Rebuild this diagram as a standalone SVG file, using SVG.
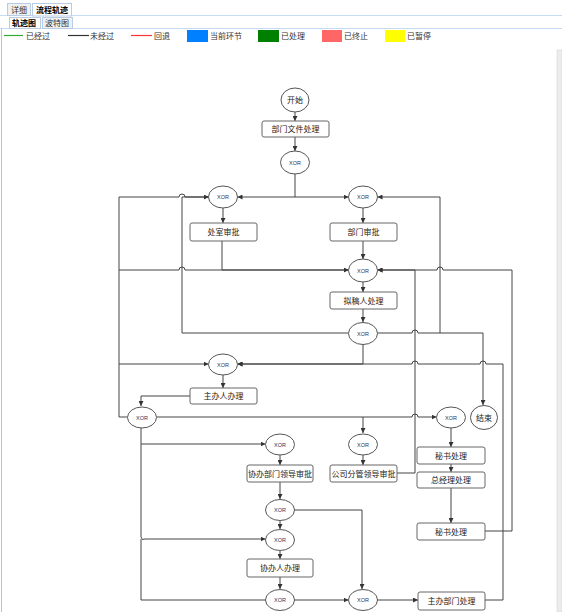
<svg xmlns="http://www.w3.org/2000/svg" width="562" height="612" viewBox="0 0 562 612">
<defs>
<marker id="arr" viewBox="0 0 6 6" refX="6" refY="3" markerWidth="5" markerHeight="5" markerUnits="userSpaceOnUse" orient="auto">
<path d="M0,0 L6,3 L0,6 z" fill="#333"/>
</marker>
<style>
.tab{fill:#f0f0f0;stroke:#b8cce4;stroke-width:1}
.tabsel{fill:#ffffff;stroke:#b8cce4;stroke-width:1}
.tt{font-family:"Liberation Sans","Noto Sans CJK SC",sans-serif;font-size:8px;fill:#333}
.ttb{font-family:"Liberation Sans","Noto Sans CJK SC",sans-serif;font-size:8px;fill:#000;font-weight:bold}
.lg{font-family:"Liberation Sans","Noto Sans CJK SC",sans-serif;font-size:8px;fill:#333}
.box{fill:#fff;stroke:#666;stroke-width:1}
.el{fill:#fff;stroke:#555;stroke-width:1}
.bt{font-family:"Liberation Sans","Noto Sans CJK SC",sans-serif;font-size:8px;fill:#222;text-anchor:middle}
.xt{font-family:"Liberation Sans",sans-serif;font-size:5.5px;fill:#335;text-anchor:middle}
.c{fill:none;stroke:#444;stroke-width:1}
.ca{fill:none;stroke:#444;stroke-width:1;marker-end:url(#arr)}
</style>
</defs>
<rect x="0" y="0" width="562" height="612" fill="#fff"/>
<!-- tabs -->
<g id="tabs">
<line x1="0" y1="15.5" x2="562" y2="15.5" stroke="#c5dbf5"/>
<rect class="tab" x="7.5" y="3.5" width="23" height="12"/>
<text class="tt" x="11" y="12.5">详细</text>
<rect class="tabsel" x="32.5" y="3.5" width="39" height="12.5" stroke="#c5dbf5"/>
<text class="ttb" x="36" y="12.5">流程轨迹</text>
<line x1="0" y1="28.5" x2="562" y2="28.5" stroke="#c5dbf5"/>
<rect class="tabsel" x="9.5" y="17.5" width="31" height="11"/>
<text class="ttb" x="12" y="26">轨迹图</text>
<rect class="tab" x="42.5" y="17.5" width="30" height="11"/>
<text class="tt" x="45" y="26">波特图</text>
<line x1="1.5" y1="28" x2="1.5" y2="612" stroke="#a8c8f0"/>
<rect x="557" y="50" width="5" height="562" fill="#ececec" stroke="#d0d0d0" stroke-width="0.5"/>
</g>
<!-- legend -->
<g id="legend">
<line x1="4" y1="35.5" x2="23" y2="35.5" stroke="#33aa33" stroke-width="1.2"/>
<text class="lg" x="26" y="38.5">已经过</text>
<line x1="68" y1="35.5" x2="89" y2="35.5" stroke="#333" stroke-width="1.2"/>
<text class="lg" x="90" y="38.5">未经过</text>
<line x1="131" y1="35.5" x2="152" y2="35.5" stroke="#ff3333" stroke-width="1.2"/>
<text class="lg" x="154" y="38.5">回退</text>
<rect x="187" y="30" width="21" height="12" fill="#0080ff"/>
<text class="lg" x="210" y="38.5">当前环节</text>
<rect x="258" y="30" width="21" height="12" fill="#008000"/>
<text class="lg" x="281" y="38.5">已处理</text>
<rect x="322" y="30" width="20" height="12" fill="#ff6666"/>
<text class="lg" x="344" y="38.5">已终止</text>
<rect x="385" y="30" width="20" height="12" fill="#ffff00"/>
<text class="lg" x="407" y="38.5">已暂停</text>
</g>
<!-- connectors -->
<g id="connectors">
<path class="ca" d="M295,112 L295,121"/>
<path class="ca" d="M295,137 L295,151"/>
<path class="ca" d="M295,174 L295,197 L237.5,197"/>
<path class="ca" d="M295,197 L348.5,197"/>
<path class="ca" d="M223,208 L223,223"/>
<path class="ca" d="M363,208 L363,223"/>
<path class="ca" d="M222,241 L222,270 L348.5,270"/>
<path class="ca" d="M363,241 L363,259"/>
<path class="ca" d="M363,282 L363,292"/>
<path class="ca" d="M363,309 L363,322"/>
<path class="ca" d="M348.5,333 L182,333 L182,197 L208.5,197"/>
<path class="ca" d="M377.5,333 L412,333 A3,3 0 0 1 418,333 L440,333 L440,197 L377.5,197"/>
<path class="ca" d="M440,333 L483,333 L483,405"/>
<path class="ca" d="M363,344 L363,364 L237.5,364"/>
<path class="ca" d="M223,375 L223,388"/>
<path class="ca" d="M190,396 L141,396 L141,406"/>
<path class="ca" d="M127.5,417 L119,417 L119,197 L179,197 A3,3 0 0 1 185,197 L208.5,197"/>
<path class="ca" d="M119,270 L179,270 A3,3 0 0 1 185,270 L348.5,270"/>
<path class="ca" d="M119,364 L208.5,364"/>
<path class="ca" d="M156.5,417 L412,417 A3,3 0 0 1 418,417 L436.5,417"/>
<path class="ca" d="M363,417 L363,433"/>
<path class="ca" d="M141,428 L141,444 L265.5,444"/>
<path class="ca" d="M141,444 L141,537 Q142,541 145,539 L265.5,539"/>
<path class="c" d="M141,539 L141,600 L265.5,600" stroke-width="1.6"/>
<path class="ca" d="M363,455 L363,465"/>
<path class="ca" d="M397,473 L415,473 L415,270 L377.5,270"/>
<path class="ca" d="M485,531 L512,531 L512,270 L443,270 A3,3 0 0 0 437,270 L377.5,270"/>
<path class="ca" d="M485,600 L503,600 L503,364 L486,364 A3,3 0 0 0 480,364 L418,364 A3,3 0 0 0 412,364 L237.5,364"/>
<path class="ca" d="M280,455 L280,465"/>
<path class="ca" d="M280,482 L280,499"/>
<path class="ca" d="M294.5,510 L362,510 L362,589"/>
<path class="ca" d="M280,521 L280,529"/>
<path class="ca" d="M280,551 L280,559"/>
<path class="ca" d="M280,577 L280,589"/>
<path class="ca" d="M294.5,600 L348.5,600"/>
<path class="ca" d="M377.5,600 L418,600"/>
<path class="ca" d="M451,428 L451,447"/>
<path class="ca" d="M451,464 L451,472"/>
<path class="ca" d="M451,488 L451,523"/>
</g>
<!-- nodes -->
<g id="start"><ellipse class="el" cx="295" cy="100" rx="14" ry="12"/><text class="bt" x="295" y="103">开始</text></g>
<g id="n_bmwj"><rect class="box" x="262" y="121" width="67" height="16" rx="2"/><text class="bt" x="295.5" y="132">部门文件处理</text></g>
<g id="xor1"><ellipse class="el" cx="295" cy="162.5" rx="14.5" ry="11.5"/><text class="xt" x="295" y="164.5">XOR</text></g>
<g id="xor2"><ellipse class="el" cx="223" cy="197" rx="14.5" ry="11"/><text class="xt" x="223" y="199">XOR</text></g>
<g id="xor3"><ellipse class="el" cx="363" cy="197" rx="14.5" ry="11"/><text class="xt" x="363" y="199">XOR</text></g>
<g id="n_cssp"><rect class="box" x="190" y="223" width="67" height="18" rx="2"/><text class="bt" x="223.5" y="235">处室审批</text></g>
<g id="n_bmsp"><rect class="box" x="330" y="223" width="67" height="18" rx="2"/><text class="bt" x="363.5" y="235">部门审批</text></g>
<g id="xor4"><ellipse class="el" cx="363" cy="270.5" rx="14.5" ry="11.5"/><text class="xt" x="363" y="272.5">XOR</text></g>
<g id="n_ngr"><rect class="box" x="330" y="292" width="67" height="17" rx="2"/><text class="bt" x="363.5" y="303.5">拟稿人处理</text></g>
<g id="xor6"><ellipse class="el" cx="363" cy="333.5" rx="14.5" ry="11"/><text class="xt" x="363" y="335.5">XOR</text></g>
<g id="xor5"><ellipse class="el" cx="223" cy="364.5" rx="14.5" ry="10.5"/><text class="xt" x="223" y="366.5">XOR</text></g>
<g id="n_zbr"><rect class="box" x="190" y="388" width="67" height="16" rx="2"/><text class="bt" x="223.5" y="399">主办人办理</text></g>
<g id="xor7"><ellipse class="el" cx="142" cy="417.5" rx="14.5" ry="10.5"/><text class="xt" x="142" y="419.5">XOR</text></g>
<g id="xor8"><ellipse class="el" cx="451" cy="417.5" rx="14.5" ry="10.5"/><text class="xt" x="451" y="419.5">XOR</text></g>
<g id="end"><ellipse class="el" cx="484" cy="417.5" rx="13.5" ry="12"/><text class="bt" x="484" y="420.5">结束</text></g>
<g id="xor10"><ellipse class="el" cx="280" cy="444.5" rx="14.5" ry="10.5"/><text class="xt" x="280" y="446.5">XOR</text></g>
<g id="xor9"><ellipse class="el" cx="363" cy="444.5" rx="14.5" ry="10.5"/><text class="xt" x="363" y="446.5">XOR</text></g>
<g id="n_msb1"><rect class="box" x="417" y="447" width="68" height="17" rx="2"/><text class="bt" x="451" y="458.5">秘书处理</text></g>
<g id="n_xbbm"><rect class="box" x="247" y="465" width="66" height="17" rx="2"/><text class="bt" x="280" y="476.5">协办部门领导审批</text></g>
<g id="n_gsfg"><rect class="box" x="330" y="465" width="67" height="17" rx="2"/><text class="bt" x="363.5" y="476.5">公司分管领导审批</text></g>
<g id="n_zjl"><rect class="box" x="417" y="472" width="68" height="16" rx="2"/><text class="bt" x="451" y="483">总经理处理</text></g>
<g id="xor11"><ellipse class="el" cx="280" cy="510" rx="14.5" ry="10.5"/><text class="xt" x="280" y="512">XOR</text></g>
<g id="n_msb2"><rect class="box" x="417" y="523" width="68" height="17" rx="2"/><text class="bt" x="451" y="534.5">秘书处理</text></g>
<g id="xor11b"><ellipse class="el" cx="280" cy="540" rx="14.5" ry="10.5"/><text class="xt" x="280" y="542">XOR</text></g>
<g id="n_xbr"><rect class="box" x="247" y="559" width="66" height="18" rx="2"/><text class="bt" x="280" y="571">协办人办理</text></g>
<g id="xor12"><ellipse class="el" cx="280" cy="600" rx="14.5" ry="10.5"/><text class="xt" x="280" y="602">XOR</text></g>
<g id="xor13"><ellipse class="el" cx="363" cy="600" rx="14.5" ry="10.5"/><text class="xt" x="363" y="602">XOR</text></g>
<g id="n_zbbm"><rect class="box" x="418" y="592" width="67" height="18" rx="2"/><text class="bt" x="451.5" y="604">主办部门处理</text></g>
</svg>
